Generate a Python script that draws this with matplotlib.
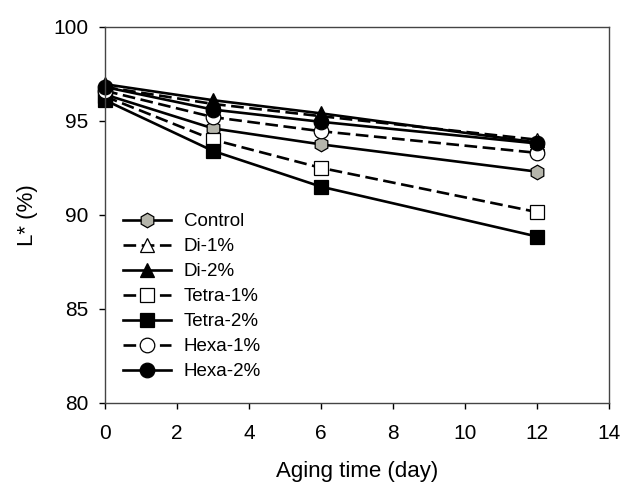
import matplotlib
matplotlib.use("Agg")
import matplotlib.pyplot as plt

plt.rcParams['font.family'] = ['Liberation Sans', 'DejaVu Sans']

days = [0, 3, 6, 12]
control = [96.4, 94.6, 93.75, 92.3]
di1 = [96.8, 95.9, 95.25, 94.0]
di2 = [96.95, 96.1, 95.4, 93.85]
tetra1 = [96.3, 94.0, 92.5, 90.15]
tetra2 = [96.1, 93.4, 91.5, 88.85]
hexa1 = [96.6, 95.2, 94.45, 93.3]
hexa2 = [96.8, 95.6, 94.95, 93.8]

series = [
    ("Control", control, 'h', '#b5b5ab', '-'),
    ("Di-1%", di1, '^', 'white', '--'),
    ("Di-2%", di2, '^', 'black', '-'),
    ("Tetra-1%", tetra1, 's', 'white', '--'),
    ("Tetra-2%", tetra2, 's', 'black', '-'),
    ("Hexa-1%", hexa1, 'o', 'white', '--'),
    ("Hexa-2%", hexa2, 'o', 'black', '-'),
]

fig = plt.figure(figsize=(6.41, 4.98), dpi=100)
ax = fig.add_axes([0.164, 0.191, 0.786, 0.755])

for name, vals, mk, fc, ls in series:
    line, = ax.plot(days, vals, color='black', linewidth=1.9, linestyle=ls,
                    marker=mk, markersize=10.5, markerfacecolor=fc,
                    markeredgecolor='black', markeredgewidth=0.9, label=name,
                    clip_on=False)
    if ls == '--':
        line.set_dashes((4.8, 2.1))

ax.set_xlim(0, 14)
ax.set_ylim(80, 100)
ax.set_xticks(range(0, 15, 2))
ax.set_yticks(range(80, 101, 5))
ax.tick_params(axis='both', direction='out', length=4, width=1, labelsize=15,
               colors='black')
ax.tick_params(axis='x', pad=11)
ax.tick_params(axis='y', pad=8)
for s in ax.spines.values():
    s.set_linewidth(1.0)
    s.set_color('#444444')
ax.set_xlabel("Aging time (day)", fontsize=16, labelpad=13)
ax.set_ylabel("L* (%)", fontsize=16, labelpad=11)

ax.legend(loc='lower left', bbox_to_anchor=(0.02, 0.04), borderaxespad=0,
          frameon=False, fontsize=13.5, handlelength=2.56, handletextpad=0.7,
          labelspacing=0.42)

fig.savefig("out.png", dpi=100)
